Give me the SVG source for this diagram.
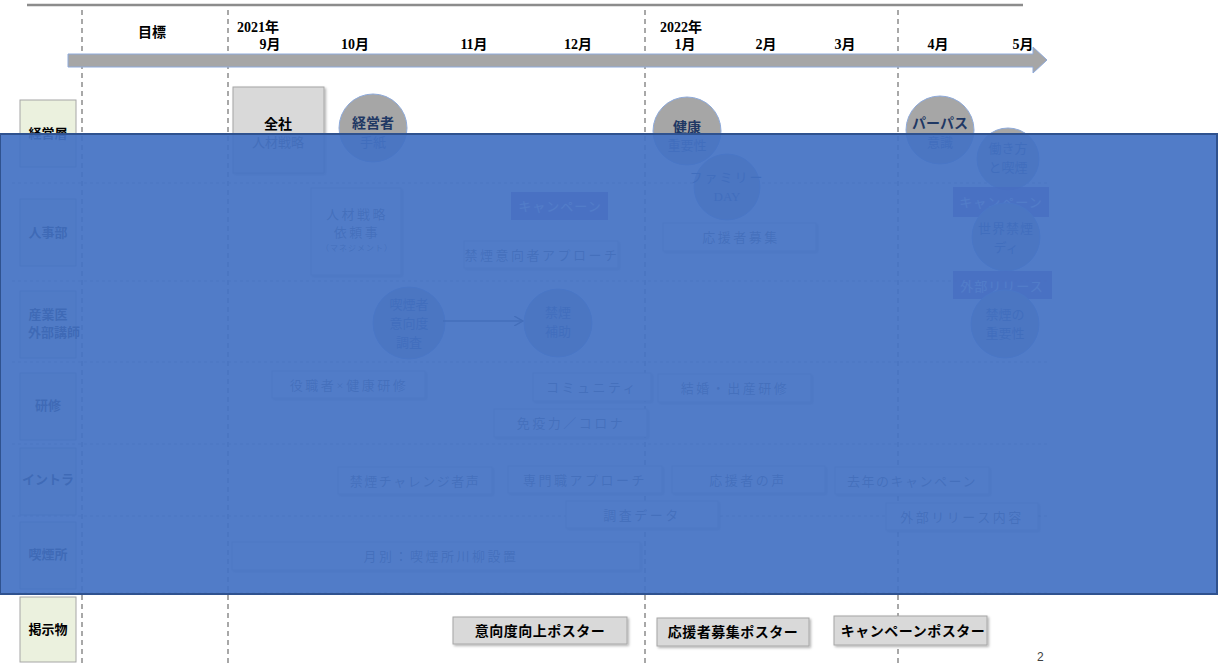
<svg xmlns="http://www.w3.org/2000/svg" width="1221" height="664" viewBox="0 0 1221 664">
<style>
text{font-family:"Liberation Serif","Noto Sans CJK JP",serif;fill:#000}
.hd{font-size:14px;font-weight:bold;text-anchor:middle}
.lab{font-size:13px;font-weight:bold;text-anchor:middle}
.bx{fill:#fff;stroke:#bfbfbf;stroke-width:1;filter:url(#sh)}
.bt{font-size:13px;text-anchor:middle;fill:#595959;letter-spacing:2.5px}
.gbx{fill:#d9d9d9;stroke:#a6a6a6;stroke-width:1;filter:url(#sh)}
.circ{fill:#a6a6a6;stroke:#8eaadb;stroke-width:1}
.ct{font-size:13px;text-anchor:middle;fill:#1f3864}
.ctb{font-size:14px;font-weight:bold;text-anchor:middle;fill:#1f3864}
.pur{fill:#7030a0;opacity:0.75}
.pt{font-size:13px;text-anchor:middle;fill:#fff;letter-spacing:1px}
.lb{fill:#ebf1de;stroke:#a6a6a6;stroke-width:1}
.vd{stroke:#8c8c8c;stroke-width:1.5;stroke-dasharray:5 4;fill:none}
.hdl{stroke:#a6a6a6;stroke-width:1;stroke-dasharray:3 3;fill:none}
.pst{font-size:14px;font-weight:bold;text-anchor:middle;letter-spacing:0.5px}
</style>
<defs>
<filter id="sh" x="-10%" y="-20%" width="130%" height="160%">
<feDropShadow dx="1.5" dy="1.5" stdDeviation="1" flood-color="#000" flood-opacity="0.3"/>
</filter>
<marker id="ah" markerWidth="10" markerHeight="10" refX="8" refY="5" orient="auto" markerUnits="userSpaceOnUse">
<path d="M0,0 L9,5 L0,10" fill="none" stroke="#404040" stroke-width="1.5"/>
</marker>
</defs>
<rect width="1221" height="664" fill="#fff"/>

<!-- top rule -->
<line x1="27" y1="5" x2="1023" y2="5" stroke="#8c8c8c" stroke-width="2.5"/>

<!-- grid lines -->
<g id="grid">
<line class="vd" x1="82" y1="10" x2="82" y2="664"/>
<line class="vd" x1="228" y1="10" x2="228" y2="664"/>
<line class="vd" x1="645" y1="10" x2="645" y2="664"/>
<line class="vd" x1="898" y1="10" x2="898" y2="664"/>
<line class="hdl" x1="12" y1="183" x2="1047" y2="183"/>
<line class="hdl" x1="12" y1="281" x2="1047" y2="281"/>
<line class="hdl" x1="12" y1="362" x2="1047" y2="362"/>
<line class="hdl" x1="12" y1="444" x2="1047" y2="444"/>
<line class="hdl" x1="12" y1="516" x2="1047" y2="516"/>
<line class="hdl" x1="12" y1="593" x2="1047" y2="593"/>
</g>

<!-- timeline arrow -->
<g id="timeline">
<polygon points="68,54 1033,54 1033,47 1047,60 1033,73 1033,67 68,67" fill="#a6a6a6" stroke="#8eaadb" stroke-width="1"/>
<text class="hd" x="152" y="37">目標</text>
<text class="hd" x="237" y="32" style="text-anchor:start">2021年</text>
<text class="hd" x="270" y="49">9月</text>
<text class="hd" x="355" y="49">10月</text>
<text class="hd" x="474" y="49">11月</text>
<text class="hd" x="578" y="49">12月</text>
<text class="hd" x="660" y="32" style="text-anchor:start">2022年</text>
<text class="hd" x="685" y="49">1月</text>
<text class="hd" x="766" y="49">2月</text>
<text class="hd" x="845" y="49">3月</text>
<text class="hd" x="938" y="49">4月</text>
<text class="hd" x="1023" y="49">5月</text>
</g>

<!-- row labels -->
<g id="row-keiei"><rect class="lb" x="20" y="100" width="56" height="67"/><text class="lab" x="48" y="138">経営層</text></g>
<g id="row-jinji"><rect class="lb" x="20" y="199" width="56" height="67"/><text class="lab" x="48" y="237">人事部</text></g>
<g id="row-sangyo"><rect class="lb" x="20" y="291" width="56" height="67"/><text class="lab" x="48" y="319">産業医</text><text class="lab" x="54" y="337">外部講師</text></g>
<g id="row-kenshu"><rect class="lb" x="20" y="373" width="56" height="67"/><text class="lab" x="48" y="410">研修</text></g>
<g id="row-intra"><rect class="lb" x="20" y="448" width="56" height="67"/><text class="lab" x="48" y="484">イントラ</text></g>
<g id="row-kitsuen"><rect class="lb" x="20" y="522" width="56" height="67"/><text class="lab" x="48" y="559">喫煙所</text></g>
<g id="row-keiji"><rect class="lb" x="20" y="597" width="56" height="65"/><text class="lab" x="48" y="634">掲示物</text></g>

<!-- nodes -->
<g id="n-zensha"><rect class="gbx" x="233" y="87" width="91" height="86"/><text class="ctb" x="278" y="129" style="fill:#000">全社</text><text class="ct" x="278" y="147" style="fill:#404040">人材戦略</text></g>
<g id="n-keieisha"><circle class="circ" cx="373" cy="128" r="34"/><text class="ctb" x="373" y="128">経営者</text><text class="ct" x="373" y="147">手紙</text></g>
<g id="n-kenko"><circle class="circ" cx="687" cy="131" r="34"/><text class="ctb" x="687" y="132">健康</text><text class="ct" x="687" y="150">重要性</text></g>
<g id="n-family"><circle class="circ" cx="727" cy="187" r="33"/><text class="ct" x="727" y="182" style="letter-spacing:2px">ファミリー</text><text class="ct" x="727" y="201">DAY</text></g>
<g id="n-purpose"><circle class="circ" cx="940" cy="130" r="34"/><text class="ctb" x="940" y="128">パーパス</text><text class="ct" x="940" y="147">意識</text></g>
<g id="n-hatarakikata"><circle class="circ" cx="1008" cy="159" r="31"/><text class="ct" x="1008" y="153">働き方</text><text class="ct" x="1008" y="172">と喫煙</text></g>

<g id="n-irai"><rect class="bx" x="311" y="188" width="90" height="87"/><text class="bt" x="357" y="219">人材戦略</text><text class="bt" x="357" y="237">依頼事</text><text class="bt" x="357" y="251" style="font-size:8px;letter-spacing:1px">（マネジメント）</text></g>
<g id="n-camp1"><rect class="pur" x="511" y="192" width="97" height="28"/><text class="pt" x="560" y="211">キャンペーン</text></g>
<g id="n-ikou"><rect class="bx" x="464" y="241" width="154" height="27"/><text class="bt" x="542" y="260">禁煙意向者アプローチ</text></g>
<g id="n-ouen"><rect class="bx" x="663" y="223" width="153" height="28"/><text class="bt" x="741" y="242">応援者募集</text></g>
<g id="n-camp2"><rect class="pur" x="953" y="187" width="96" height="30"/><text class="pt" x="1001" y="207">キャンペーン</text></g>
<g id="n-sekai"><circle class="circ" cx="1006" cy="237" r="34"/><text class="ct" x="1006" y="233" style="letter-spacing:1px">世界禁煙</text><text class="ct" x="1006" y="252">ディ</text></g>
<g id="n-release"><rect class="pur" x="953" y="271" width="99" height="28"/><text class="pt" x="1002" y="291">外部リリース</text></g>
<g id="n-juyou"><circle class="circ" cx="1005" cy="324" r="34"/><text class="ct" x="1005" y="319">禁煙の</text><text class="ct" x="1005" y="338">重要性</text></g>
<g id="n-chousa"><circle class="circ" cx="409" cy="323" r="36"/><text class="ct" x="409" y="309">喫煙者</text><text class="ct" x="409" y="328">意向度</text><text class="ct" x="409" y="347">調査</text></g>
<g id="n-hojo"><circle class="circ" cx="558" cy="323" r="34"/><text class="ct" x="558" y="317">禁煙</text><text class="ct" x="558" y="336">補助</text></g>

<g id="n-yakushoku"><rect class="bx" x="272" y="371" width="153" height="27"/><text class="bt" x="349" y="390">役職者×健康研修</text></g>
<g id="n-community"><rect class="bx" x="533" y="373" width="118" height="28"/><text class="bt" x="592" y="392">コミュニティ</text></g>
<g id="n-kekkon"><rect class="bx" x="658" y="374" width="153" height="28"/><text class="bt" x="735" y="393">結婚・出産研修</text></g>
<g id="n-meneki"><rect class="bx" x="494" y="409" width="153" height="28"/><text class="bt" x="571" y="428">免疫力／コロナ</text></g>

<g id="n-challenge"><rect class="bx" x="338" y="467" width="154" height="27"/><text class="bt" x="415" y="486" style="letter-spacing:1.5px">禁煙チャレンジ者声</text></g>
<g id="n-senmon"><rect class="bx" x="508" y="466" width="154" height="27"/><text class="bt" x="585" y="485">専門職アプローチ</text></g>
<g id="n-ouennokoe"><rect class="bx" x="672" y="466" width="153" height="27"/><text class="bt" x="748" y="485">応援者の声</text></g>
<g id="n-kyonen"><rect class="bx" x="835" y="467" width="154" height="27"/><text class="bt" x="912" y="486" style="letter-spacing:1.5px">去年のキャンペーン</text></g>
<g id="n-data"><rect class="bx" x="566" y="501" width="152" height="27"/><text class="bt" x="642" y="520">調査データ</text></g>
<g id="n-release2"><rect class="bx" x="886" y="503" width="152" height="27"/><text class="bt" x="962" y="522">外部リリース内容</text></g>
<g id="n-senryu"><rect class="bx" x="232" y="542" width="408" height="28"/><text class="bt" x="441" y="561">月別：喫煙所川柳設置</text></g>

<g id="n-poster1"><rect class="gbx" x="453" y="617" width="174" height="27"/><text class="pst" x="540" y="636">意向度向上ポスター</text></g>
<g id="n-poster2"><rect class="gbx" x="657" y="618" width="152" height="28"/><text class="pst" x="733" y="637">応援者募集ポスター</text></g>
<g id="n-poster3"><rect class="gbx" x="834" y="616" width="153" height="29"/><text class="pst" x="913" y="636">キャンペーンポスター</text></g>

<!-- connectors -->
<g id="connectors">
<line x1="443" y1="321" x2="522" y2="321" stroke="#404040" stroke-width="1.5" marker-end="url(#ah)"/>
</g>

<!-- overlay -->
<rect id="overlay" x="0" y="134" width="1217" height="460" fill="#4472c4" fill-opacity="0.93" stroke="#2f528f" stroke-width="2"/>

<text x="1037" y="661" style="font-family:'Liberation Sans',sans-serif;font-size:12px;fill:#404040">2</text>
</svg>
